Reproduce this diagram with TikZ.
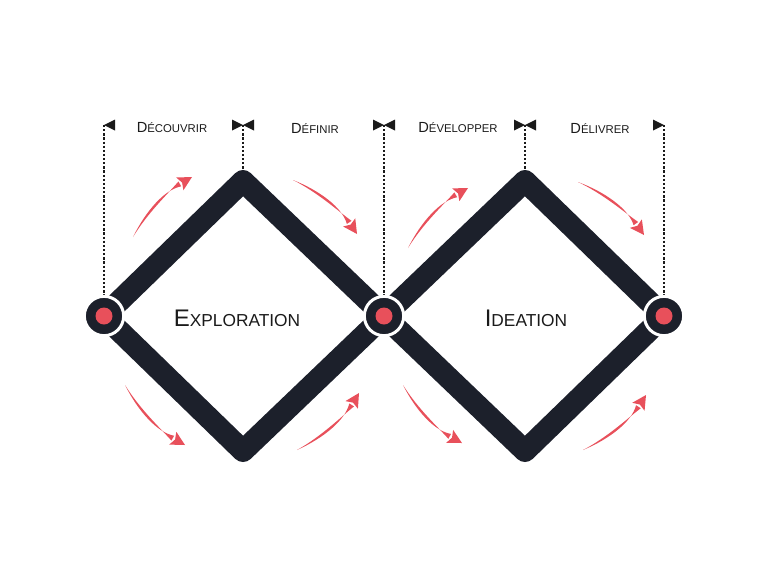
\documentclass[tikz,border=0pt]{standalone}
\usepackage{fontspec}
\setmainfont{Liberation Sans}
\usetikzlibrary{arrows.meta,calc}
\definecolor{navy}{HTML}{1C202B}
\definecolor{coral}{HTML}{E8505B}
\definecolor{ink}{HTML}{1A1A1A}
\newcommand{\capsA}[2]{{\fontsize{11}{11}\selectfont #1}{\fontsize{8.5}{9}\selectfont #2}}
\newcommand{\capsB}[2]{{\fontsize{18}{18}\selectfont #1}{\fontsize{13}{13}\selectfont #2}}
% tapered curved arrow: #1 start, #2 #3 controls, #4 tip
\newcommand{\flowarrow}[4]{%
  \coordinate (fE) at ($(#4)!10.5pt!(#3)$);
  \coordinate (fn) at ($(#1)!1pt!90:(#4)$);
  \coordinate (fh) at ($(fE)!1pt!-90:(#4)$);
  \fill[flowfill] (#1)
    .. controls ($(#2)+1.0*(fn)-1.0*(#1)$) and ($(#3)+2.0*(fn)-2.0*(#1)$) .. ($(fE)+2.1*(fh)-2.1*(fE)$)
    -- ($(fE)-2.1*(fh)+2.1*(fE)$)
    .. controls ($(#3)-2.0*(fn)+2.0*(#1)$) and ($(#2)-1.0*(fn)+1.0*(#1)$) .. (#1) -- cycle;
  \fill[flowfill] (#4) -- ($(fE)+5.5*(fh)-5.5*(fE)$) -- ($(fE)!2pt!(#4)$) -- ($(fE)-5.5*(fh)+5.5*(fE)$) -- cycle;
}
\begin{document}
\begin{tikzpicture}[x=0.75pt,y=-0.75pt,
  band/.style={draw=navy,line width=16.5pt,line join=round,line cap=round},
  hub/.style={circle,fill=navy,draw=white,line width=2.25pt,minimum size=29.5pt,inner sep=0pt},
  core/.style={circle,fill=coral,minimum size=12.75pt,inner sep=0pt},
  guide/.style={draw=ink,line width=1.7pt,dash pattern=on 1.7pt off 1.4pt},
  flag/.style={fill=ink},
  phase/.style={text=ink,inner sep=0pt},
  title/.style={text=ink,inner sep=0pt},
  flowfill/.style={fill=coral}
]
\useasboundingbox (0,0) rectangle (768,576);
% vertices
\coordinate (L) at (104,316);
\coordinate (M) at (384,316);
\coordinate (R) at (664,316);
\coordinate (T1) at (243,181);
\coordinate (B1) at (243,451);
\coordinate (T2) at (525,181);
\coordinate (B2) at (525,451);
% tops of guides
\coordinate (gL) at (104,125);
\coordinate (g1) at (243,125);
\coordinate (gM) at (384,125);
\coordinate (g2) at (525,125);
\coordinate (gR) at (664,125);
% guides
\draw[guide] (gL) -- (L);
\draw[guide] (g1) -- (T1);
\draw[guide] (gM) -- (M);
\draw[guide] (g2) -- (T2);
\draw[guide] (gR) -- (R);
% flags
\fill[flag] (gL) -- ++(11,-5.5) -- ++(0,11) -- cycle;
\fill[flag] (g1) -- ++(-11,-5.5) -- ++(0,11) -- cycle;
\fill[flag] (g1) -- ++(11,-5.5) -- ++(0,11) -- cycle;
\fill[flag] (gM) -- ++(-11,-5.5) -- ++(0,11) -- cycle;
\fill[flag] (gM) -- ++(11,-5.5) -- ++(0,11) -- cycle;
\fill[flag] (g2) -- ++(-11,-5.5) -- ++(0,11) -- cycle;
\fill[flag] (g2) -- ++(11,-5.5) -- ++(0,11) -- cycle;
\fill[flag] (gR) -- ++(-11,-5.5) -- ++(0,11) -- cycle;
% phase labels
\node[phase] (p1) at (172,128) {\capsA{D}{ÉCOUVRIR}};
\node[phase] (p2) at (315,128) {\capsA{D}{ÉFINIR}};
\node[phase] (p3) at (458,128) {\capsA{D}{ÉVELOPPER}};
\node[phase] (p4) at (600,128) {\capsA{D}{ÉLIVRER}};
% diamonds
\draw[band] (L) -- (T1) -- (M) -- (B1) -- cycle;
\draw[band] (M) -- (T2) -- (R) -- (B2) -- cycle;
% hubs
\node[hub] (hL) at (L) {};
\node[hub] (hM) at (M) {};
\node[hub] (hR) at (R) {};
\node[core] (cL) at (hL) {};
\node[core] (cM) at (hM) {};
\node[core] (cR) at (hR) {};
% titles
\node[title] (t1) at (237,318) {\capsB{E}{XPLORATION}};
\node[title] (t2) at (526,318) {\capsB{I}{DEATION}};
% flow arrows
\coordinate (a1s) at (133,237); \coordinate (a1p) at (147.1,211.3); \coordinate (a1q) at (166.7,191.3); \coordinate (a1e) at (192,177);
\coordinate (a2s) at (293,180); \coordinate (a2p) at (319.5,191.9); \coordinate (a2q) at (340.8,209.9); \coordinate (a2e) at (357,234);
\coordinate (a3s) at (125,385); \coordinate (a3p) at (139.3,410.7); \coordinate (a3q) at (159.3,430.7); \coordinate (a3e) at (185,445);
\coordinate (a4s) at (297,450); \coordinate (a4p) at (323.1,436.9); \coordinate (a4q) at (343.7,417.9); \coordinate (a4e) at (359,393);
\coordinate (a5s) at (408,248); \coordinate (a5p) at (422.3,222.3); \coordinate (a5q) at (442.3,202.3); \coordinate (a5e) at (468,188);
\coordinate (a6s) at (578,182); \coordinate (a6p) at (605,193.4); \coordinate (a6q) at (627,211.1); \coordinate (a6e) at (644,235);
\coordinate (a7s) at (403,385); \coordinate (a7p) at (417.1,410.1); \coordinate (a7q) at (436.7,429.4); \coordinate (a7e) at (462,443);
\coordinate (a8s) at (583,450); \coordinate (a8p) at (609.3,437.7); \coordinate (a8q) at (630.3,419.3); \coordinate (a8e) at (646,395);
\flowarrow{a1s}{a1p}{a1q}{a1e}
\flowarrow{a2s}{a2p}{a2q}{a2e}
\flowarrow{a3s}{a3p}{a3q}{a3e}
\flowarrow{a4s}{a4p}{a4q}{a4e}
\flowarrow{a5s}{a5p}{a5q}{a5e}
\flowarrow{a6s}{a6p}{a6q}{a6e}
\flowarrow{a7s}{a7p}{a7q}{a7e}
\flowarrow{a8s}{a8p}{a8q}{a8e}
\end{tikzpicture}
\end{document}
